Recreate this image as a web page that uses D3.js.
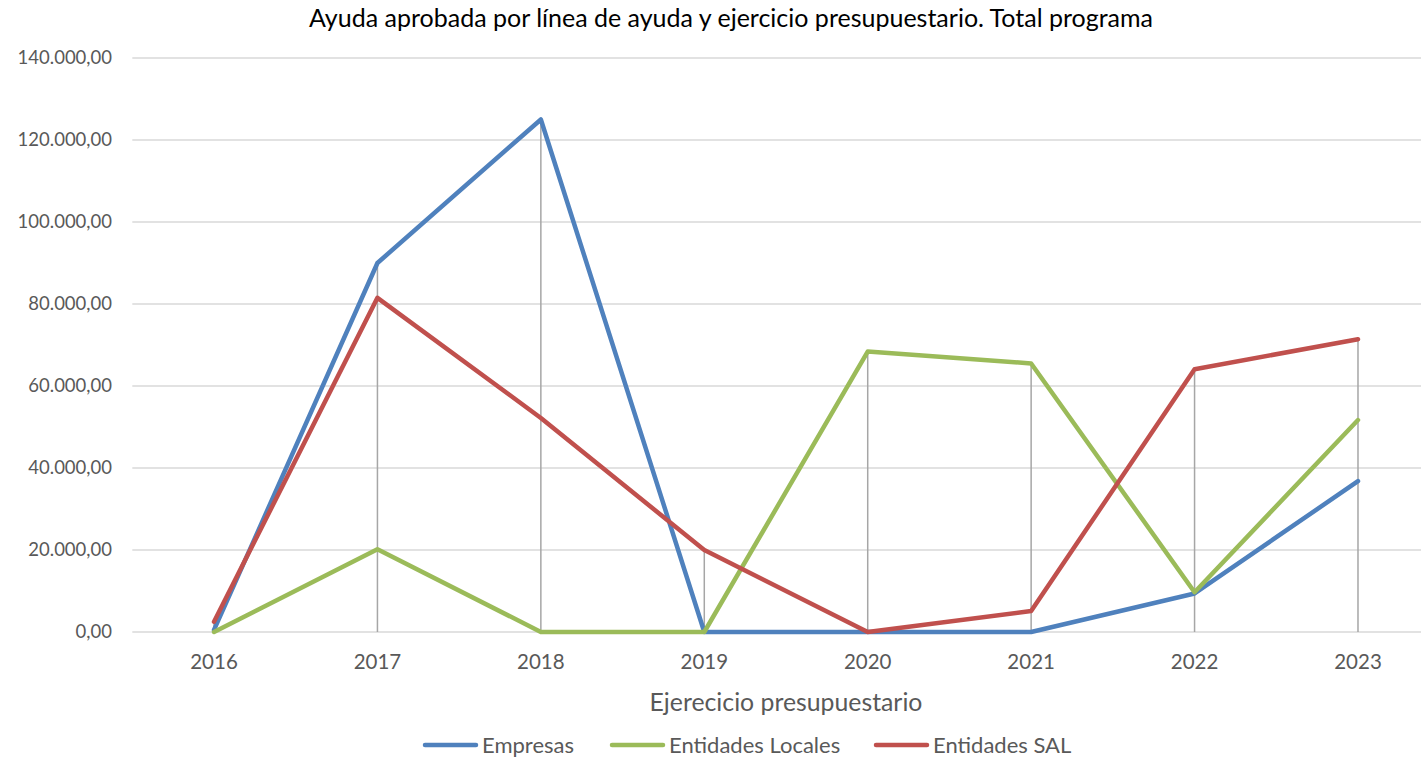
<!DOCTYPE html>
<html>
<head>
<meta charset="utf-8">
<script src="https://cdn.jsdelivr.net/npm/d3@7"></script>
<style>
  html, body { margin: 0; padding: 0; background: #fff; }
  svg { display: block; font-family: "Lato", "Open Sans", sans-serif; }
</style>
</head>
<body>
<svg id="chart" width="1421" height="760"></svg>
<script>
const categories = ["2016", "2017", "2018", "2019", "2020", "2021", "2022", "2023"];
const empresas = [500, 90000, 125000, 0, 0, 0, 9400, 36800];
const entidadesLocales = [0, 20200, 0, 0, 68400, 65500, 9700, 51700];
const entidadesSAL = [2500, 81500, 52200, 20000, 0, 5100, 64100, 71400];
const seriesNames = ["Empresas", "Entidades Locales", "Entidades SAL"];
const seriesColors = ["#4f81bd", "#9bbb59", "#c0504d"];
const yTicks = [0, 20000, 40000, 60000, 80000, 100000, 120000, 140000];
const title = "Ayuda aprobada por línea de ayuda y ejercicio presupuestario. Total programa";
const xTitle = "Ejerecicio presupuestario";

const series = [empresas, entidadesLocales, entidadesSAL].map((vals, i) => ({
  name: seriesNames[i], color: seriesColors[i],
  values: vals.map((v, j) => ({ cat: categories[j], v }))
}));

const svg = d3.select("#chart");
const pLeft = 132.3, pRight = 1439.7, pTop = 58, pBottom = 632;

const x = d3.scaleBand().domain(categories).range([pLeft, pRight]);
const y = d3.scaleLinear().domain([0, 140000]).range([pBottom, pTop]);
const cx = c => x(c) + x.bandwidth() / 2;

const fmt = v => {
  const s = d3.format(",.2f")(v);
  return s.replace(/,/g, "#").replace(/\./g, ",").replace(/#/g, ".");
};

// gridlines
svg.append("g").selectAll("line").data(yTicks).join("line")
  .attr("x1", pLeft).attr("x2", 1421)
  .attr("y1", d => y(d)).attr("y2", d => y(d))
  .attr("stroke", "#d9d9d9").attr("stroke-width", 1.5);

// y axis labels
const yAxis = d3.axisLeft(y).tickValues(yTicks).tickFormat(fmt).tickSize(0).tickPadding(0);
const yg = svg.append("g").attr("transform", `translate(112,0)`).call(yAxis);
yg.select(".domain").remove();
yg.selectAll("text").attr("fill", "#595959").style("font-size", "18.5px").style("font-family", "Lato, sans-serif");

// x axis labels
const xAxis = d3.axisBottom(x).tickSize(0).tickPadding(0);
const xg = svg.append("g").attr("transform", `translate(0,${pBottom + 22})`).call(xAxis);
xg.select(".domain").remove();
xg.selectAll("text").attr("fill", "#595959").style("font-size", "20.5px").style("font-family", "Lato, sans-serif");

// drop lines
svg.append("g").selectAll("line").data(categories).join("line")
  .attr("x1", d => cx(d)).attr("x2", d => cx(d))
  .attr("y1", (d, j) => y(d3.max(series, s => s.values[j].v)))
  .attr("y2", pBottom)
  .attr("stroke", "#a6a6a6").attr("stroke-width", 1.5);

// lines
const line = d3.line().x(d => cx(d.cat)).y(d => y(d.v));
svg.append("g").selectAll("path").data(series).join("path")
  .attr("d", d => line(d.values))
  .attr("fill", "none")
  .attr("stroke", d => d.color)
  .attr("stroke-width", 4.5)
  .attr("stroke-linejoin", "round")
  .attr("stroke-linecap", "round");

// title
svg.append("text").attr("x", 731).attr("y", 27).attr("text-anchor", "middle")
  .attr("fill", "#000").style("font-size", "25px").text(title);

// x title
svg.append("text").attr("x", 786).attr("y", 711).attr("text-anchor", "middle")
  .attr("fill", "#595959").style("font-size", "24.8px").text(xTitle);

// legend
const legendX = [423, 610, 874];
const lg = svg.append("g").selectAll("g").data(series).join("g")
  .attr("transform", (d, i) => `translate(${legendX[i]},745)`);
lg.append("line").attr("x1", 2).attr("x2", 53).attr("y1", 0).attr("y2", 0)
  .attr("stroke", d => d.color).attr("stroke-width", 4.5).attr("stroke-linecap", "round");
lg.append("text").attr("x", 59).attr("y", 0).attr("dy", "0.35em")
  .attr("fill", "#595959").style("font-size", "22px").text(d => d.name);
</script>
</body>
</html>
